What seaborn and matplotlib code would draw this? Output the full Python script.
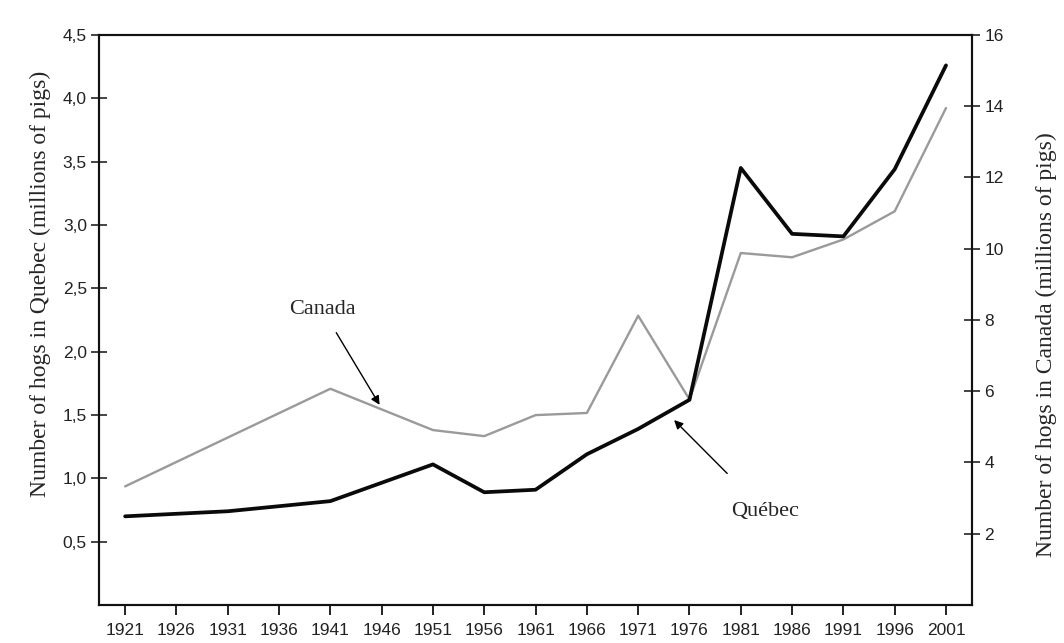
#!/usr/bin/env python3
"""Hog inventory in Quebec and Canada, 1921-2001, on twin y axes."""

import matplotlib.pyplot as plt
import matplotlib.ticker as mticker
import pandas as pd
import seaborn as sns

# census years shown on the x axis
tick_years = list(range(1921, 2002, 5))

# Quebec hogs, millions (left axis)
quebec_years = [1921, 1931, 1941, 1951, 1956, 1961, 1966, 1971, 1976, 1981, 1986, 1991, 1996, 2001]
quebec_hogs = [0.70, 0.74, 0.82, 1.11, 0.89, 0.91, 1.19, 1.39, 1.62, 3.45, 2.93, 2.91, 3.44, 4.26]

# Canada hogs, millions (right axis)
canada_years = [1921, 1941, 1951, 1956, 1961, 1966, 1971, 1976, 1981, 1986, 1991, 1996, 2001]
canada_hogs = [3.33, 6.07, 4.91, 4.74, 5.33, 5.39, 8.12, 5.77, 9.88, 9.76, 10.26, 11.05, 13.95]

left_ticks = [0.5, 1.0, 1.5, 2.0, 2.5, 3.0, 3.5, 4.0, 4.5]
right_ticks = [2, 4, 6, 8, 10, 12, 14, 16]

SERIF = ["Liberation Serif", "DejaVu Serif"]
SANS = ["Liberation Sans", "DejaVu Sans"]


def main() -> None:
    sns.set_style("white")
    plt.rcParams["font.family"] = SANS

    qc = pd.DataFrame({"year": quebec_years, "hogs": quebec_hogs})
    ca = pd.DataFrame({"year": canada_years, "hogs": canada_hogs})

    fig = plt.figure(figsize=(10.64, 6.43), dpi=100)
    ax = fig.add_axes([0.0935, 0.0591, 0.8197, 0.8865])
    ax2 = ax.twinx()

    sns.lineplot(data=ca, x="year", y="hogs", ax=ax2, color="#9a9a9a", linewidth=1.7)
    sns.lineplot(data=qc, x="year", y="hogs", ax=ax, color="#0a0a0a", linewidth=2.7)
    ax.set_zorder(ax2.get_zorder() + 1)
    ax.patch.set_visible(False)

    ax.set_xlim(1918.5, 2003.5)
    ax.set_ylim(0, 4.5)
    ax2.set_ylim(0, 16)

    ax.set_xticks(tick_years)
    ax.set_yticks(left_ticks)
    ax.yaxis.set_major_formatter(
        mticker.FuncFormatter(lambda v, _: f"{v:.1f}".replace(".", ","))
    )
    ax2.set_yticks(right_ticks)

    for a in (ax, ax2):
        for s in a.spines.values():
            s.set_color("#111111")
            s.set_linewidth(1.5)
        a.set_xlabel("")
        a.set_ylabel("")
    ax.tick_params(axis="x", direction="out", length=7, width=1.3, color="#111111",
                   labelsize=12.5, labelcolor="#222222", pad=6, bottom=True)
    ax.tick_params(axis="y", direction="inout", length=12, width=1.1, color="#111111",
                   labelsize=12.5, labelcolor="#222222", pad=3, left=True)
    ax2.tick_params(axis="y", direction="inout", length=12, width=1.1, color="#111111",
                    labelsize=12.5, labelcolor="#222222", pad=3, right=True)

    fig.text(40 / 1064, 1 - 284 / 643, "Number of hogs in Quebec (millions of pigs)",
             rotation=90, ha="center", va="center", fontsize=17, family=SERIF)
    fig.text(1046 / 1064, 1 - 345 / 643, "Number of hogs in Canada (millions of pigs)",
             rotation=90, ha="center", va="center", fontsize=17, family=SERIF)

    arrow = dict(arrowstyle="-|>", color="black", lw=1.0, mutation_scale=13)
    ax.annotate("Canada", xy=(1945.8, 1.58), xytext=(1940.2, 2.30),
                ha="center", va="baseline", fontsize=16, family=SERIF,
                arrowprops=dict(arrow, shrinkA=9, shrinkB=0))
    ax.annotate("Québec", xy=(1974.5, 1.46), xytext=(1983.4, 0.70),
                ha="center", va="baseline", fontsize=16, family=SERIF,
                arrowprops=dict(arrow, shrinkA=26, shrinkB=0))

    fig.savefig("out.png", dpi=100)
    plt.close(fig)


if __name__ == "__main__":
    main()
